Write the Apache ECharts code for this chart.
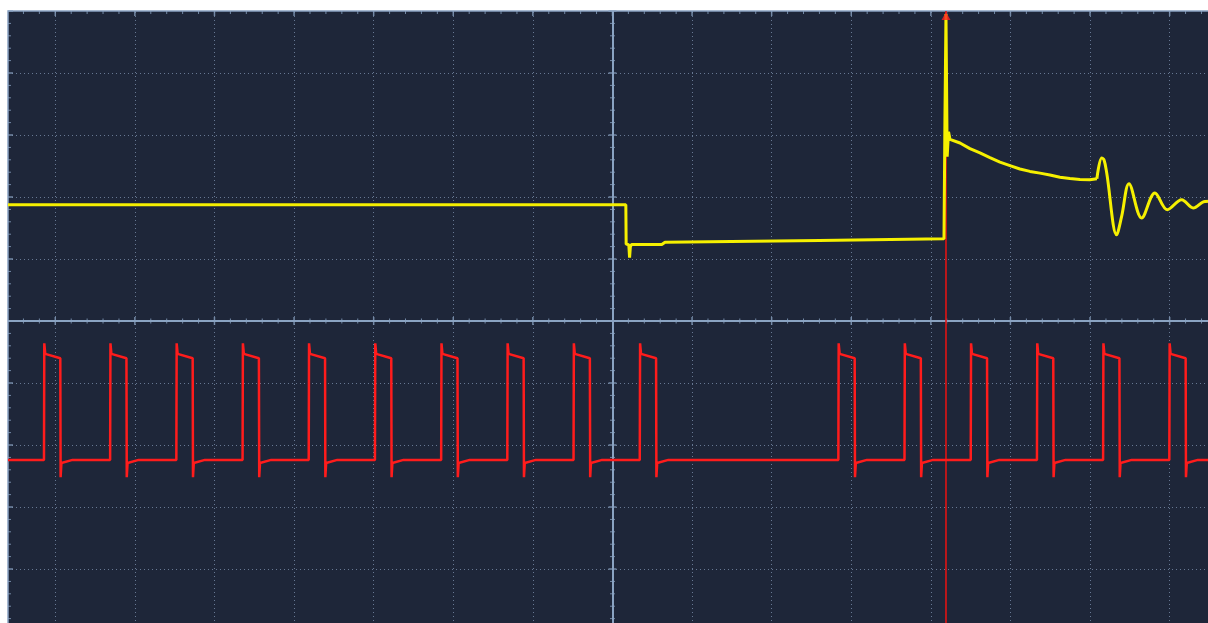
<!DOCTYPE html>
<html><head><meta charset="utf-8">
<script src="https://cdn.jsdelivr.net/npm/echarts@6/dist/echarts.min.js"></script>
<style>html,body{margin:0;padding:0;background:#fff;overflow:hidden;} #c{width:1210px;height:625px;}</style>
</head><body><div id="c"></div>
<script>
// ---- data (units: screen divisions; x = time div, y = volts div) ----
const xMin = -7.594, xMax = 7.507;
const yMin = -4.903, yMax = 5;
const divisionsX = [-7, -6, -5, -4, -3, -2, -1, 1, 2, 3, 4, 5, 6, 7];
const divisionsY = [-4, -3, -2, -1, 1, 2, 3, 4];
const subdivisions = 5;
const cursorT = 4.19;

// CH1 (yellow)
const ch1T = [-7.594, 0.168, 0.172, 0.205, 0.215, 0.225, 0.24, 0.62, 0.66, 2.6, 4.165,
  4.177, 4.19, 4.205, 4.222, 4.24, 4.366, 4.491, 4.617, 4.742, 4.868, 4.994, 5.119,
  5.245, 5.371, 5.496, 5.622, 5.747, 5.873, 5.998, 6.086];
const ch1V = [1.876, 1.876, 1.24, 1.23, 1.02, 1.2, 1.235, 1.235, 1.27, 1.30, 1.327,
  3.25, 4.95, 2.65, 3.05, 2.93, 2.871, 2.780, 2.710, 2.635, 2.562, 2.505, 2.452,
  2.413, 2.385, 2.355, 2.320, 2.298, 2.282, 2.279, 2.295];
const ch1RingT = [6.086, 6.146, 6.175, 6.209, 6.334, 6.397, 6.489, 6.648, 6.815, 6.970, 7.151, 7.296, 7.443, 7.507];
const ch1RingV = [2.295, 2.629, 2.602, 2.392, 1.392, 1.687, 2.215, 1.661, 2.065, 1.795, 1.956, 1.823, 1.929, 1.93];

// CH2 (red) square wave: edge times and levels
const ch2Rise = [-7.138, -6.307, -5.475, -4.643, -3.812, -2.980, -2.148, -1.317, -0.485, 0.347,
  2.842, 3.673, 4.505, 5.337, 6.168, 7.000];
const ch2Fall = [-6.933, -6.102, -5.270, -4.438, -3.607, -2.775, -1.943, -1.112, -0.280, 0.552,
  3.047, 3.878, 4.710, 5.542, 6.373, 7.205];
const ch2Low = -2.24;
const ch2LowAfter = -2.29;
const ch2High = -0.53;
const ch2HighEnd = -0.60;
const ch2Overshoot = -0.36;
const ch2Undershoot = -2.52;

// ---- build series data ----
const ch1Data = ch1T.map((t, i) => [t, ch1V[i]]);
const ch1RingData = ch1RingT.map((t, i) => [t, ch1RingV[i]]);
const ch2Data = [[xMin, ch2Low]];
ch2Rise.forEach((r, i) => {
  const f = ch2Fall[i];
  ch2Data.push([r - 0.004, ch2Low], [r, ch2Overshoot], [r + 0.012, ch2High],
    [f - 0.004, ch2HighEnd], [f, ch2Undershoot], [f + 0.01, ch2LowAfter], [f + 0.15, ch2Low]);
});
ch2Data.push([xMax, ch2Low]);

const step = 1 / subdivisions;
const tickTopMinor = [], tickTopMajor = [], tickLeftMinor = [], tickLeftMajor = [];
const crossHMinor = [], crossHMajor = [], crossVMinor = [], crossVMajor = [];
for (let k = Math.ceil(xMin / step); k * step <= xMax; k++) {
  const x = +(k * step).toFixed(3);
  const major = k % subdivisions === 0;
  (major ? tickTopMajor : tickTopMinor).push([x, yMax]);
  if (x !== 0) (major ? crossHMajor : crossHMinor).push([x, 0]);
}
for (let k = Math.ceil(yMin / step); k * step <= yMax; k++) {
  const y = +(k * step).toFixed(3);
  const major = k % subdivisions === 0;
  (major ? tickLeftMajor : tickLeftMinor).push([xMin, y]);
  if (y !== 0) (major ? crossVMajor : crossVMinor).push([0, y]);
}

const tickColor = '#8aa3c2';
const dotted = { color: 'rgba(128,148,178,0.75)', width: 1, type: [1, 3] };
function tickSeries(data, size, offset) {
  return { type: 'scatter', data, symbol: 'rect', symbolSize: size, symbolOffset: offset,
    itemStyle: { color: tickColor }, silent: true, z: 3, clip: false };
}

const chart = echarts.init(document.getElementById('c'), null, { renderer: 'canvas' });
chart.setOption({
  animation: false,
  backgroundColor: '#ffffff',
  grid: { left: 8, top: 11, right: 0, bottom: 0, show: true, backgroundColor: '#1e2639',
    borderColor: '#8aa3c2', borderWidth: 1.5 },
  xAxis: { type: 'value', min: xMin, max: xMax, show: false },
  yAxis: { type: 'value', min: yMin, max: yMax, show: false },
  series: [
    { type: 'line', data: [], silent: true, z: 1,
      markLine: { silent: true, symbol: 'none', label: { show: false }, lineStyle: dotted,
        data: divisionsX.map(v => ({ xAxis: v })).concat(divisionsY.map(v => ({ yAxis: v }))) } },
    { type: 'line', data: [], silent: true, z: 2,
      markLine: { silent: true, symbol: 'none', label: { show: false },
        lineStyle: { color: '#8aa3c2', width: 2, type: 'solid' },
        data: [{ xAxis: 0 }, { yAxis: 0 }] } },
    tickSeries(tickTopMinor, [1, 3], [0, 1.5]),
    tickSeries(tickTopMajor, [1.5, 5], [0, 2.5]),
    tickSeries(tickLeftMinor, [3, 1], [1.5, 0]),
    tickSeries(tickLeftMajor, [5, 1.5], [2.5, 0]),
    tickSeries(crossHMinor, [1, 5], [0, 0]),
    tickSeries(crossHMajor, [1.5, 8], [0, 0]),
    tickSeries(crossVMinor, [5, 1], [0, 0]),
    tickSeries(crossVMajor, [8, 1.5], [0, 0]),
    { type: 'line', data: [], silent: true, z: 4,
      markLine: { silent: true, symbol: 'none', label: { show: false },
        lineStyle: { color: '#e01414', width: 1.6, type: 'solid' },
        data: [{ xAxis: cursorT }] } },
    { name: 'CH2', type: 'line', data: ch2Data, showSymbol: false, z: 5,
      lineStyle: { color: '#ff1c1c', width: 2.5 } },
    { name: 'CH1', type: 'line', data: ch1Data, showSymbol: false, z: 6,
      lineStyle: { color: '#f6f000', width: 3 } },
    { name: 'CH1 ring', type: 'line', data: ch1RingData, showSymbol: false, smooth: 0.35, z: 6,
      lineStyle: { color: '#f6f000', width: 3 } },
    { type: 'scatter', data: [[cursorT, yMax]], symbol: 'triangle', symbolSize: [9, 8],
      symbolOffset: [0, 5], itemStyle: { color: '#ff2020' }, z: 8, silent: true, clip: false }
  ]
});
</script></body></html>
